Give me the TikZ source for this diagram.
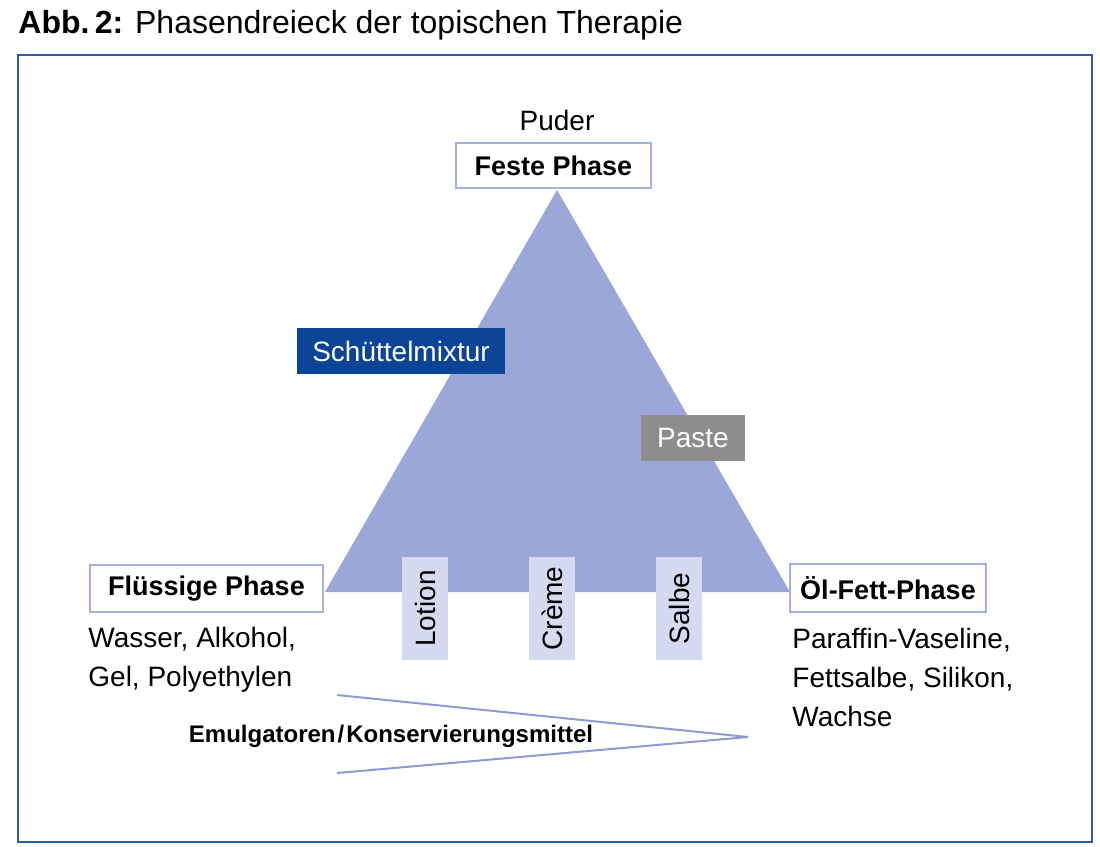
\documentclass[tikz,border=0pt]{standalone}
\usepackage{fontspec}
\setmainfont{Liberation Sans}
\usepackage{tikz}

\definecolor{frameblue}{HTML}{2A5BA6}
\definecolor{trianglefill}{HTML}{9AA7D8}
\definecolor{boxline}{HTML}{A7AFDC}
\definecolor{formfill}{HTML}{D6DAF0}
\definecolor{mixblue}{HTML}{0B4397}
\definecolor{pastegray}{HTML}{8D8D8D}
\definecolor{wedgeline}{HTML}{8E9BD3}

\tikzset{
  phasebox/.style={draw=boxline, line width=0.8pt, fill=white, inner sep=0pt,
    font=\fontsize{13.5}{16}\selectfont\bfseries},
  formbox/.style={fill=formfill, inner sep=0pt, rotate=90,
    minimum width=51.5pt, minimum height=23pt, font=\fontsize{14}{17}\selectfont},
  darkbox/.style={text=white, inner sep=0pt, minimum height=23pt,
    font=\fontsize{14}{17}\selectfont},
  plaintext/.style={inner sep=0pt, align=left, font=\fontsize{14}{19.5}\selectfont}
}

\begin{document}
\begin{tikzpicture}[x=0.5pt,y=-0.5pt]
  \useasboundingbox (0,0) rectangle (1100,847);
  % title
  \node[inner sep=0pt, anchor=base west, font=\fontsize{16}{19}\selectfont] (title) at (18,33)
    {\textbf{Abb.\,2:} Phasendreieck der topischen Therapie};
  % frame
  \draw[frameblue, line width=1pt] (18,55) rectangle (1092,842);
  % phase triangle
  \coordinate (top) at (557,190);
  \coordinate (left) at (325,592);
  \coordinate (right) at (790,592);
  \fill[trianglefill] (top) -- (left) -- (right) -- cycle;
  % corner phases
  \node[phasebox, minimum width=97.5pt, minimum height=22.5pt] (solid) at (553.5,165.5) {Feste Phase};
  \node[phasebox, minimum width=116.5pt, minimum height=23.5pt] (liquid) at (206.5,588.5) {Flüssige Phase};
  \node[phasebox, minimum width=98pt, minimum height=24pt] (fat) at (888,588) {Öl-Fett-Phase};
  \node[plaintext, anchor=base] (powder) at (557,130) {Puder};
  % mixtures on the sides
  \node[darkbox, fill=mixblue, minimum width=104pt] (shake) at (401,351) {Schüttelmixtur};
  \node[darkbox, fill=pastegray, minimum width=52pt] (paste) at (693,438) {Paste};
  % mixtures on the base
  \foreach \x/\name/\txt in {425/lotion/Lotion, 552/cream/Crème, 679/ointment/Salbe}
    \node[formbox] (\name) at (\x,608.5) {\txt};
  % base materials
  \node[plaintext, anchor=north west] (liquidlist) at (88,627)
    {Wasser, Alkohol,\\Gel, Polyethylen};
  \node[plaintext, anchor=north west] (fatlist) at (792,628)
    {Paraffin-Vaseline,\\Fettsalbe, Silikon,\\Wachse};
  % emulsifier wedge
  \coordinate (wedgetop) at (337,695);
  \coordinate (wedgetip) at (748,737);
  \coordinate (wedgebottom) at (337,773);
  \draw[wedgeline, line width=1pt] (wedgetop) -- (wedgetip) -- (wedgebottom);
  \node[inner sep=0pt, anchor=base, font=\fontsize{12}{14}\selectfont\bfseries] (emul) at (391,742)
    {Emulgatoren\kern1pt/\kern1ptKonservierungsmittel};
\end{tikzpicture}
\end{document}
